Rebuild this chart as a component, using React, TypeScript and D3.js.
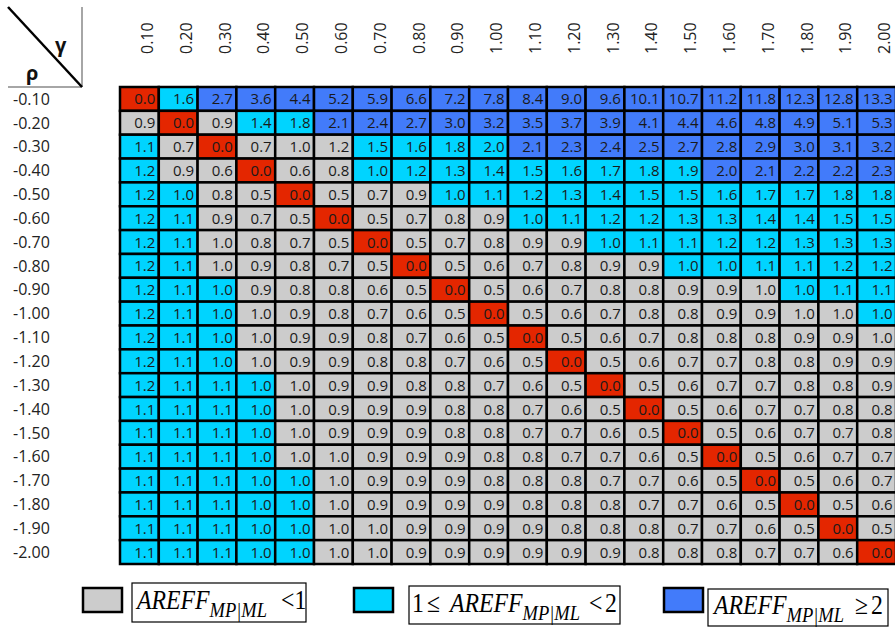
import * as d3 from "d3";

const GAMMAS = ["0.10","0.20","0.30","0.40","0.50","0.60","0.70","0.80","0.90","1.00","1.10","1.20","1.30","1.40","1.50","1.60","1.70","1.80","1.90","2.00"];
const RHOS = ["-0.10","-0.20","-0.30","-0.40","-0.50","-0.60","-0.70","-0.80","-0.90","-1.00","-1.10","-1.20","-1.30","-1.40","-1.50","-1.60","-1.70","-1.80","-1.90","-2.00"];

// AREFF values, one row per rho, one column per gamma
const VALUES = [
  [0.0,1.6,2.7,3.6,4.4,5.2,5.9,6.6,7.2,7.8,8.4,9.0,9.6,10.1,10.7,11.2,11.8,12.3,12.8,13.3],
  [0.9,0.0,0.9,1.4,1.8,2.1,2.4,2.7,3.0,3.2,3.5,3.7,3.9,4.1,4.4,4.6,4.8,4.9,5.1,5.3],
  [1.1,0.7,0.0,0.7,1.0,1.2,1.5,1.6,1.8,2.0,2.1,2.3,2.4,2.5,2.7,2.8,2.9,3.0,3.1,3.2],
  [1.2,0.9,0.6,0.0,0.6,0.8,1.0,1.2,1.3,1.4,1.5,1.6,1.7,1.8,1.9,2.0,2.1,2.2,2.2,2.3],
  [1.2,1.0,0.8,0.5,0.0,0.5,0.7,0.9,1.0,1.1,1.2,1.3,1.4,1.5,1.5,1.6,1.7,1.7,1.8,1.8],
  [1.2,1.1,0.9,0.7,0.5,0.0,0.5,0.7,0.8,0.9,1.0,1.1,1.2,1.2,1.3,1.3,1.4,1.4,1.5,1.5],
  [1.2,1.1,1.0,0.8,0.7,0.5,0.0,0.5,0.7,0.8,0.9,0.9,1.0,1.1,1.1,1.2,1.2,1.3,1.3,1.3],
  [1.2,1.1,1.0,0.9,0.8,0.7,0.5,0.0,0.5,0.6,0.7,0.8,0.9,0.9,1.0,1.0,1.1,1.1,1.2,1.2],
  [1.2,1.1,1.0,0.9,0.8,0.8,0.6,0.5,0.0,0.5,0.6,0.7,0.8,0.8,0.9,0.9,1.0,1.0,1.1,1.1],
  [1.2,1.1,1.0,1.0,0.9,0.8,0.7,0.6,0.5,0.0,0.5,0.6,0.7,0.8,0.8,0.9,0.9,1.0,1.0,1.0],
  [1.2,1.1,1.0,1.0,0.9,0.9,0.8,0.7,0.6,0.5,0.0,0.5,0.6,0.7,0.8,0.8,0.8,0.9,0.9,1.0],
  [1.2,1.1,1.0,1.0,0.9,0.9,0.8,0.8,0.7,0.6,0.5,0.0,0.5,0.6,0.7,0.7,0.8,0.8,0.9,0.9],
  [1.2,1.1,1.1,1.0,1.0,0.9,0.9,0.8,0.8,0.7,0.6,0.5,0.0,0.5,0.6,0.7,0.7,0.8,0.8,0.9],
  [1.1,1.1,1.1,1.0,1.0,0.9,0.9,0.9,0.8,0.8,0.7,0.6,0.5,0.0,0.5,0.6,0.7,0.7,0.8,0.8],
  [1.1,1.1,1.1,1.0,1.0,0.9,0.9,0.9,0.8,0.8,0.7,0.7,0.6,0.5,0.0,0.5,0.6,0.7,0.7,0.8],
  [1.1,1.1,1.1,1.0,1.0,1.0,0.9,0.9,0.9,0.8,0.8,0.7,0.7,0.6,0.5,0.0,0.5,0.6,0.7,0.7],
  [1.1,1.1,1.1,1.0,1.0,1.0,0.9,0.9,0.9,0.8,0.8,0.8,0.7,0.7,0.6,0.5,0.0,0.5,0.6,0.7],
  [1.1,1.1,1.1,1.0,1.0,1.0,0.9,0.9,0.9,0.9,0.8,0.8,0.8,0.7,0.7,0.6,0.5,0.0,0.5,0.6],
  [1.1,1.1,1.1,1.0,1.0,1.0,1.0,0.9,0.9,0.9,0.9,0.8,0.8,0.8,0.7,0.7,0.6,0.5,0.0,0.5],
  [1.1,1.1,1.1,1.0,1.0,1.0,1.0,0.9,0.9,0.9,0.9,0.9,0.9,0.8,0.8,0.8,0.7,0.7,0.6,0.0],
];

// class of each cell (unrounded value): 0 = same model, g < 1, c in [1,2), b >= 2
const CLASSES = [
  "0cbbbbbbbbbbbbbbbbbb",
  "g0gccbbbbbbbbbbbbbbb",
  "cg0gggccccbbbbbbbbbb",
  "cgg0ggcccccccccbbbbb",
  "ccgg0gggcccccccccccc",
  "ccggg0ggggcccccccccc",
  "ccgggg0gggggcccccccc",
  "ccggggg0ggggggcccccc",
  "cccggggg0ggggggggccc",
  "cccgggggg0gggggggggc",
  "cccggggggg0ggggggggg",
  "cccgggggggg0gggggggg",
  "ccccgggggggg0ggggggg",
  "ccccggggggggg0gggggg",
  "ccccgggggggggg0ggggg",
  "ccccggggggggggg0gggg",
  "cccccggggggggggg0ggg",
  "cccccgggggggggggg0gg",
  "cccccggggggggggggg0g",
  "cccccgggggggggggggg0",
];

const FILL: Record<string, string> = {
  "0": "#e42600",
  g: "#cccccc",
  c: "#00d4ff",
  b: "#427bfa",
};

const W = 895;
const H = 627;
const SX = 0.88; // legend text is horizontally condensed

export default function App() {
  const x = d3.scaleBand<string>().domain(GAMMAS).range([120, 896]);
  const y = d3.scaleBand<string>().domain(RHOS).range([87, 564]);

  const cells = RHOS.flatMap((r, i) =>
    GAMMAS.map((g, j) => ({ r, g, v: VALUES[i][j], cls: CLASSES[i][j] }))
  );

  const font = "'Open Sans', 'DejaVu Sans', sans-serif";
  const legendFont = "'Liberation Serif', 'Times New Roman', serif";

  return (
    <svg
      width={W}
      height={H}
      style={{ position: "absolute", left: 0, top: 0, background: "#fff" }}
      fontFamily={font}
    >
      {/* corner header */}
      <line x1={8} y1={87} x2={82} y2={87} stroke="#888" strokeWidth={1.5} />
      <line x1={82} y1={7} x2={82} y2={87} stroke="#888" strokeWidth={1.5} />
      <line x1={8} y1={7} x2={82} y2={87} stroke="#000" strokeWidth={2.5} />
      <text x={55} y={52} fontSize={20} fontWeight="bold" fill="#111">γ</text>
      <text x={26} y={80} fontSize={20} fontWeight="bold" fill="#111">ρ</text>

      {/* column labels */}
      {GAMMAS.map((g) => {
        const cx = x(g)! + x.bandwidth() / 2 + 8;
        return (
          <text
            key={g}
            transform={`translate(${cx},54) rotate(-90)`}
            dy="0.35em"
            fontSize={16}
            fill="#222"
          >
            {g}
          </text>
        );
      })}

      {/* row labels */}
      {RHOS.map((r) => (
        <text
          key={r}
          x={13}
          y={y(r)! + y.bandwidth() / 2}
          dy="0.36em"
          fontSize={16}
          fill="#222"
        >
          {r}
        </text>
      ))}

      {/* cells */}
      <g>
        {cells.map((d) => (
          <rect
            key={`${d.r}_${d.g}`}
            x={x(d.g)}
            y={y(d.r)}
            width={x.bandwidth()}
            height={y.bandwidth()}
            fill={FILL[d.cls]}
            stroke="#000"
            strokeWidth={2.5}
          />
        ))}
        {cells.map((d) => (
          <text
            key={`t${d.r}_${d.g}`}
            x={x(d.g)! + x.bandwidth() - 3.5}
            y={y(d.r)! + y.bandwidth() / 2}
            dy="0.37em"
            textAnchor="end"
            fontSize={15}
            fill="#1a1a1a"
          >
            {d3.format(".1f")(d.v)}
          </text>
        ))}
      </g>

      {/* legend */}
      <g fontFamily={legendFont} fill="#000">
        <rect x={83} y={588} width={39} height={24} fill={FILL.g} stroke="#000" strokeWidth={2.5} />
        <rect x={132} y={583} width={174} height={39} fill="#fff" stroke="#000" strokeWidth={1.2} />
        <g transform={`translate(137,609) scale(${SX},1)`}>
          <text fontSize={27}>
            <tspan x={0} fontStyle="italic">AREFF</tspan>
            <tspan dy={8} fontSize={21} fontStyle="italic">MP|ML</tspan>
            <tspan x={(281 - 137) / SX} dy={-8}>{"<1"}</tspan>
          </text>
        </g>

        <rect x={354} y={588} width={39} height={24} fill={FILL.c} stroke="#000" strokeWidth={2.5} />
        <rect x={409} y={586} width={211} height={38} fill="#fff" stroke="#000" strokeWidth={1.2} />
        <g transform={`translate(412,612) scale(${SX},1)`}>
          <text fontSize={27}>
            <tspan x={0}>1</tspan>
            <tspan x={(427 - 412) / SX}>≤</tspan>
            <tspan x={(450 - 412) / SX} fontStyle="italic">AREFF</tspan>
            <tspan dy={8} fontSize={21} fontStyle="italic">MP|ML</tspan>
            <tspan x={(589 - 412) / SX} dy={-8}>{"<"}</tspan>
            <tspan x={(605 - 412) / SX}>2</tspan>
          </text>
        </g>

        <rect x={664} y={588} width={39} height={24} fill={FILL.b} stroke="#000" strokeWidth={2.5} />
        <rect x={708} y={589} width={180} height={37} fill="#fff" stroke="#000" strokeWidth={1.2} />
        <g transform={`translate(714,614) scale(${SX},1)`}>
          <text fontSize={27}>
            <tspan x={0} fontStyle="italic">AREFF</tspan>
            <tspan dy={8} fontSize={21} fontStyle="italic">MP|ML</tspan>
            <tspan x={(855 - 714) / SX} dy={-8}>≥</tspan>
            <tspan x={(871 - 714) / SX}>2</tspan>
          </text>
        </g>
      </g>
    </svg>
  );
}
